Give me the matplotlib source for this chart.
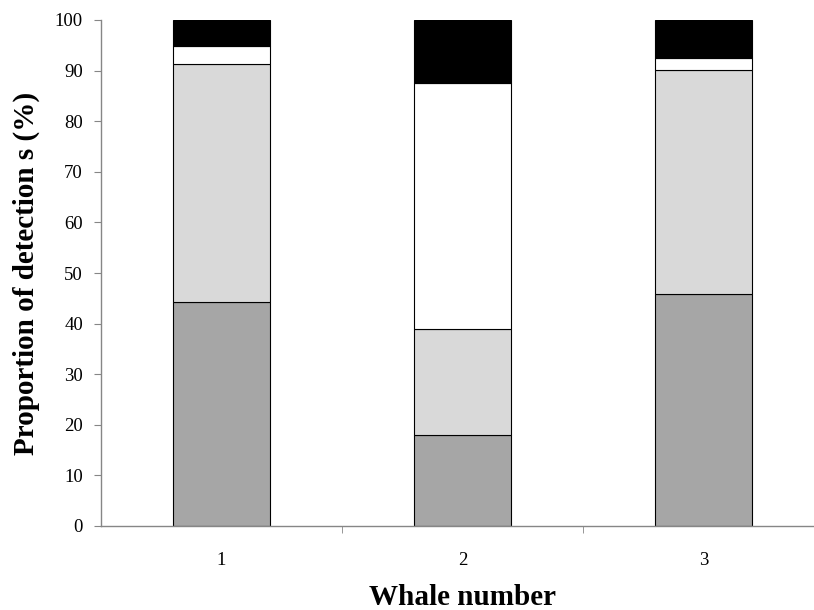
import matplotlib.pyplot as plt
import numpy as np

plt.rcParams["font.family"] = ["Liberation Serif", "DejaVu Serif"]

whales = ["1", "2", "3"]
seg_dark = [44.2, 18.0, 45.9]
seg_light = [47.2, 20.9, 44.2]
seg_white = [3.4, 48.6, 2.3]
seg_black = [5.2, 12.5, 7.6]

colors = ["#a6a6a6", "#d9d9d9", "#ffffff", "#000000"]
segments = [seg_dark, seg_light, seg_white, seg_black]

fig = plt.figure(figsize=(8.14, 6.10), dpi=100)
ax = fig.add_axes([101 / 814, 84 / 610, 723 / 814, 506 / 610])

x = np.arange(len(whales))
bottom = np.zeros(len(whales))
for seg, col in zip(segments, colors):
    ax.bar(x, seg, bottom=bottom, width=0.4, color=col,
           edgecolor="black", linewidth=0.8)
    bottom += np.array(seg)

ax.set_xlim(-0.5, 2.5)
ax.set_ylim(0, 100)
ax.set_yticks(np.arange(0, 101, 10))
ax.set_xticks(x)
ax.set_xticklabels(whales)
ax.set_xticks([0.5, 1.5], minor=True)

for side in ["top", "right"]:
    ax.spines[side].set_visible(False)
for side in ["left", "bottom"]:
    ax.spines[side].set_color("#868686")
    ax.spines[side].set_linewidth(1.0)

ax.tick_params(axis="y", direction="out", length=5, color="#868686",
               labelsize=13.5, pad=8)
ax.tick_params(axis="x", which="major", length=0, labelsize=13.5, pad=19)
ax.tick_params(axis="x", which="minor", direction="out", length=5,
               color="#868686")

ax.set_ylabel("Proportion of detection s (%)", fontsize=21,
              fontweight="bold", labelpad=11)
ax.set_xlabel("Whale number", fontsize=21, fontweight="bold")
ax.xaxis.set_label_coords(0.5, -0.115)

fig.savefig("out.png", dpi=100)
